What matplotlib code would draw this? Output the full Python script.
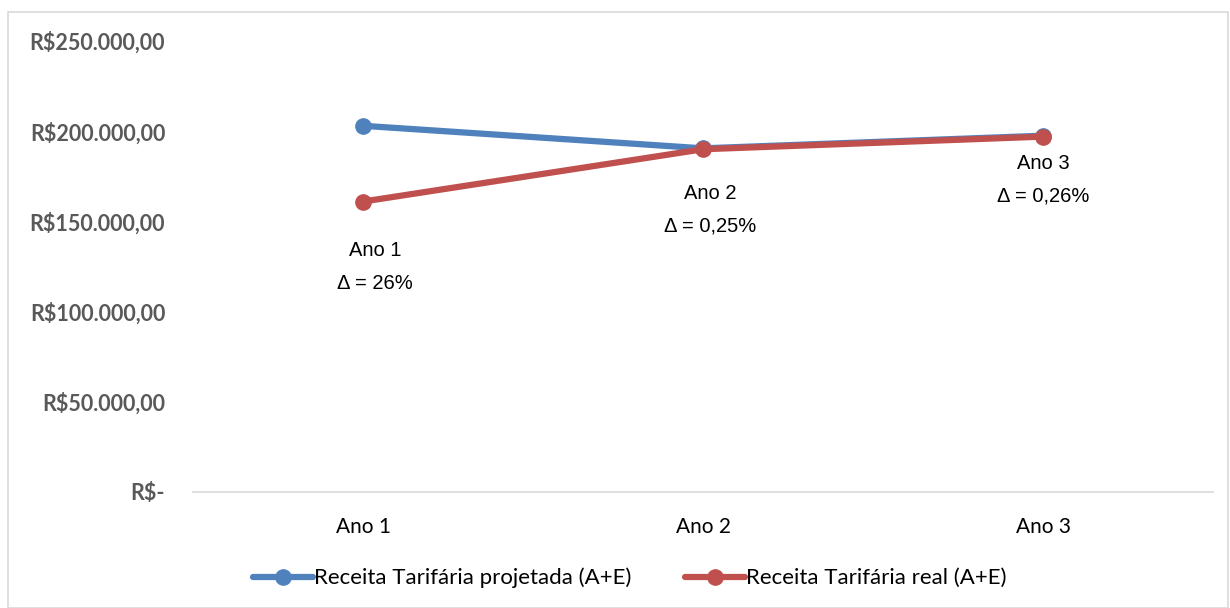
import matplotlib
matplotlib.use("Agg")
import matplotlib.pyplot as plt
from matplotlib.patches import Rectangle
from matplotlib.ticker import FixedLocator

categories = ["Ano 1", "Ano 2", "Ano 3"]
projetada = [203000, 190500, 197500]
real = [161000, 190000, 197000]
delta_labels = ["Δ = 26%", "Δ = 0,25%", "Δ = 0,26%"]
yticks = [0, 50000, 100000, 150000, 200000, 250000]
ytick_labels = ["R$-", "R$50.000,00", "R$100.000,00", "R$150.000,00", "R$200.000,00", "R$250.000,00"]
series_names = ["Receita Tarifária projetada (A+E)", "Receita Tarifária real (A+E)"]

W, H = 1230, 608
fig = plt.figure(figsize=(W / 100, H / 100), dpi=100)

# chart border
fig.patches.append(Rectangle((8 / W, 0), 1220 / W, (H - 12) / H, transform=fig.transFigure,
                             fill=False, edgecolor="#d9d9d9", linewidth=1.2))

ax = fig.add_axes([193 / W, 1 - 492 / H, 1020 / W, 451 / H])
x = list(range(len(categories)))
blue = "#4f81bd"
red = "#c0504d"
ax.plot(x, projetada, color=blue, lw=4.5, marker="o", ms=11, label=series_names[0],
        solid_capstyle="round")
ax.plot(x, real, color=red, lw=4.5, marker="o", ms=11, label=series_names[1],
        solid_capstyle="round")

ax.set_xlim(-0.5, 2.5)
ax.set_ylim(0, 250000)
ax.set_xticks(x)
ax.set_xticklabels(categories, fontsize=15, family="Lato", color="#000000")
ax.yaxis.set_major_locator(FixedLocator(yticks))
ax.set_yticklabels(ytick_labels, fontsize=15.5, family="Lato", fontweight="bold", color="#595959")
ax.tick_params(axis="both", length=0)
ax.tick_params(axis="x", pad=18)
ax.tick_params(axis="y", pad=20)
for s in ["top", "right", "left"]:
    ax.spines[s].set_visible(False)
ax.spines["bottom"].set_color("#d9d9d9")
ax.spines["bottom"].set_linewidth(1.2)

# data labels (pixel offsets from the lower point)
offsets = [(12, -49, -82), (7, -44, -77), (0, -27, -59)]
lower = [min(a, b) for a, b in zip(projetada, real)]
for i in range(len(categories)):
    dx, dy1, dy2 = offsets[i]
    ax.annotate(categories[i], (x[i], lower[i]), xytext=(dx, dy1), textcoords="offset pixels",
                ha="center", va="center", fontsize=14.5, family="Liberation Sans", color="#000000")
    ax.annotate(delta_labels[i], (x[i], lower[i]), xytext=(dx, dy2), textcoords="offset pixels",
                ha="center", va="center", fontsize=14.5, family="Liberation Sans", color="#000000")

leg = fig.legend(loc="center", bbox_to_anchor=(630 / W, 1 - 578 / H), ncol=2, frameon=False,
                 prop={"family": "Lato", "size": 16}, handlelength=2.7, handletextpad=0.05,
                 columnspacing=2.4)

fig.savefig("out.png", dpi=100)
